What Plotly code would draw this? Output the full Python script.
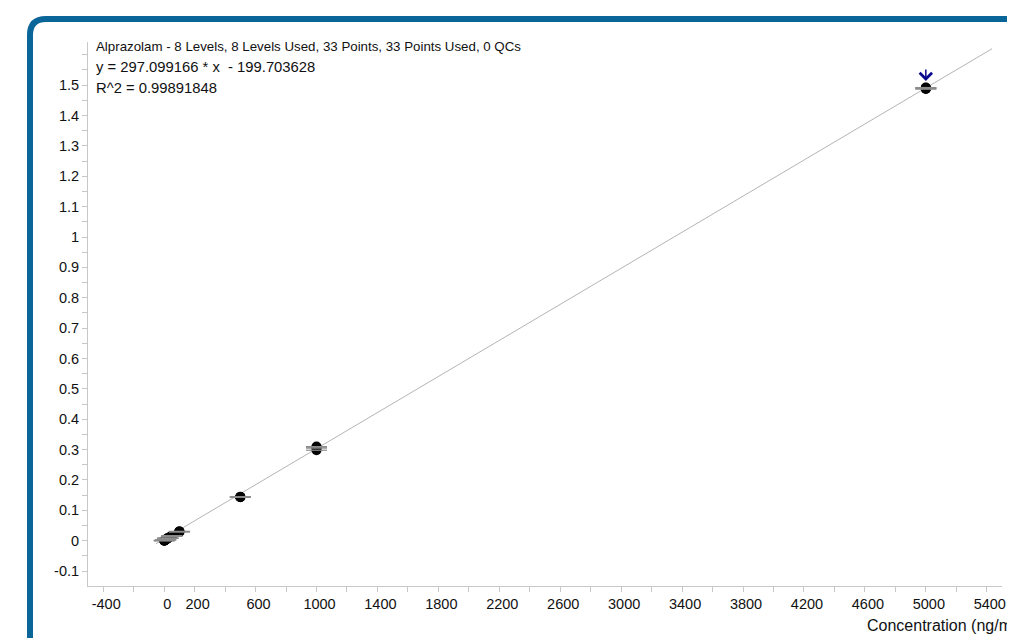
import plotly.graph_objects as go

# ---- data ----
levels = [1, 10, 25, 50, 100, 500, 1000, 5000]
replicate_y = [
    [0.000, 0.001, 0.000, 0.001],
    [0.003, 0.003, 0.004, 0.003],
    [0.008, 0.008, 0.009, 0.008],
    [0.015, 0.016, 0.015, 0.016],
    [0.030, 0.031, 0.030, 0.029],
    [0.143, 0.144, 0.145, 0.144],
    [0.298, 0.305, 0.310, 0.308],
    [1.487, 1.490, 1.492, 1.488, 1.491],
]
fit_x = [-55, 5435]
fit_y = [-0.010, 1.620]
flag_x = [5000]
flag_y = [1.49]

x_tickvals = list(range(-400, 5401, 200))
x_labels = {-400: "-400", 0: "0", 200: "200", 600: "600", 1000: "1000", 1400: "1400",
            1800: "1800", 2200: "2200", 2600: "2600", 3000: "3000", 3400: "3400",
            3800: "3800", 4200: "4200", 4600: "4600", 5000: "5000", 5400: "5400"}
y_tickvals = [round(-0.1 + 0.05 * i, 2) for i in range(0, 35)]
y_labels = {-0.1: "-0.1", 0.0: "0", 0.1: "0.1", 0.2: "0.2", 0.3: "0.3", 0.4: "0.4",
            0.5: "0.5", 0.6: "0.6", 0.7: "0.7", 0.8: "0.8", 0.9: "0.9", 1.0: "1",
            1.1: "1.1", 1.2: "1.2", 1.3: "1.3", 1.4: "1.4", 1.5: "1.5"}

title_text = "Alprazolam - 8 Levels, 8 Levels Used, 33 Points, 33 Points Used, 0 QCs"
eq_text = "y = 297.099166 * x \u00a0- 199.703628"
r2_text = "R^2 = 0.99891848"
xaxis_title = "Concentration (ng/ml)"

# ---- layout geometry (page has an 8px body margin) ----
O = 8
W, H = 1015, 638
ML, MT = 88 - O, 42 - O
MR = W - (1002 - O)
MB = H - (586 - O)
PW, PH = W - ML - MR, H - MT - MB


def px(x):  # screen pixel -> paper
    return (x - O - ML) / PW


def py(y):
    return (H - MB - (y - O)) / PH


pts_x = []
pts_y = []
for lv, ys in zip(levels, replicate_y):
    for v in ys:
        pts_x.append(lv)
        pts_y.append(v)

fig = go.Figure()
fig.add_trace(go.Scatter(x=fit_x, y=fit_y, mode="lines",
                         line=dict(color="#ababab", width=0.9), hoverinfo="skip"))
fig.add_trace(go.Scatter(x=pts_x, y=pts_y, mode="markers",
                         marker=dict(symbol="circle", size=10, color="#050505",
                                     line=dict(width=0))))
fig.add_trace(go.Scatter(x=pts_x, y=pts_y, mode="markers",
                         marker=dict(symbol="line-ew", size=15,
                                     line=dict(color="#8c8c8c", width=1.2))))

fig.add_annotation(x=flag_x[0], y=flag_y[0] + 0.024, xref="x", yref="y",
                   ax=0, ay=-13, showarrow=True, arrowhead=4, arrowsize=1.6,
                   arrowwidth=1.5, arrowcolor="#0a0a8c", text="")

font = "Liberation Sans, Arial, sans-serif"
fig.add_annotation(x=px(94), y=py(47), xref="paper", yref="paper", xanchor="left",
                   yanchor="middle", text=title_text, showarrow=False,
                   font=dict(family=font, size=13.3, color="#111"))
fig.add_annotation(x=px(94), y=py(67), xref="paper", yref="paper", xanchor="left",
                   yanchor="middle", text=eq_text, showarrow=False,
                   font=dict(family=font, size=14.8, color="#111"))
fig.add_annotation(x=px(94), y=py(88), xref="paper", yref="paper", xanchor="left",
                   yanchor="middle", text=r2_text, showarrow=False,
                   font=dict(family=font, size=14.8, color="#111"))
fig.add_annotation(x=px(865), y=py(625), xref="paper", yref="paper", xanchor="left",
                   yanchor="middle", text=xaxis_title, showarrow=False,
                   font=dict(family=font, size=16, color="#111"))

# blue rounded frame (left + top edges)
r = 16
lx, ty = 30, 19
path = (f"M {px(lx)} {py(H + 40)} L {px(lx)} {py(ty + r)} "
        f"Q {px(lx)} {py(ty)} {px(lx + r)} {py(ty)} L {px(W + 40)} {py(ty)}")
fig.add_shape(type="path", path=path, xref="paper", yref="paper",
              line=dict(color="#0a6699", width=6))

fig.update_layout(
    width=W, height=H, showlegend=False,
    margin=dict(l=ML, r=MR, t=MT, b=MB, pad=0),
    paper_bgcolor="white", plot_bgcolor="white",
    font=dict(family=font, size=14, color="#111"),
    xaxis=dict(range=[-500, 5500], tickmode="array", tickvals=x_tickvals,
               ticktext=[x_labels.get(v, "") for v in x_tickvals],
               showgrid=False, zeroline=False, showline=True, linecolor="#c8c8c8",
               linewidth=1, ticks="outside", ticklen=5, tickcolor="#c8c8c8",
               tickfont=dict(size=14.5), ticklabelshift=3),
    yaxis=dict(range=[-0.149, 1.642], tickmode="array", tickvals=y_tickvals,
               ticktext=[y_labels.get(v, "") for v in y_tickvals],
               showgrid=False, zeroline=False, showline=True, linecolor="#c8c8c8",
               linewidth=1, ticks="outside", ticklen=5, tickcolor="#c8c8c8",
               tickfont=dict(size=14.5)),
)

fig.write_html("out.html", default_width="1015px", default_height="638px")
